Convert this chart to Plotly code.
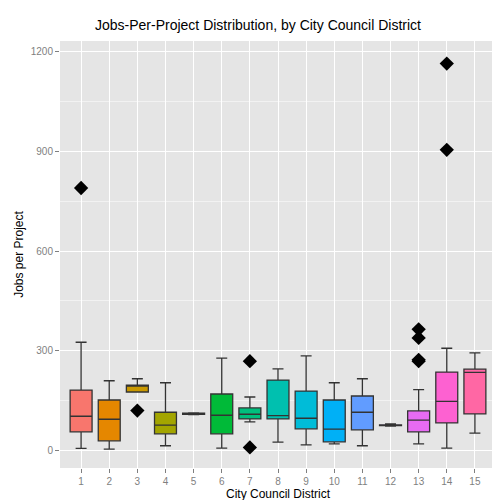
import plotly.graph_objects as go

districts = [str(i) for i in range(1, 16)]
lower = [5, 3, 175, 13, 107, 6, 85, 24, 16, 19, 13, 72, 19, 6, 51]
q1 = [55, 28, 175, 49, 108, 49, 94, 94, 64, 25, 61, 74, 55, 82, 109]
median = [102, 93, 193, 75, 110, 105, 108, 104, 96, 63, 114, 75, 90, 147, 234]
q3 = [181, 151, 196, 114, 111, 169, 127, 211, 178, 151, 163, 76, 118, 235, 244]
upper = [325, 209, 215, 203, 112, 277, 160, 245, 284, 203, 215, 79, 182, 307, 293]
colors = ["#F8766D", "#E58700", "#C99800", "#A3A500", "#6BB100", "#00BA38", "#00BF7D",
          "#00C0AF", "#00BCD8", "#00B0F6", "#619CFF", "#B983FF", "#E76BF3", "#FD61D1", "#FF67A4"]

out_x = ["1", "3", "7", "7", "13", "13", "13", "13", "14", "14"]
out_y = [790, 119, 268, 8, 268, 272, 338, 364, 1165, 905]

fig = go.Figure()
for i, d in enumerate(districts):
    fig.add_trace(go.Box(
        x=[d], q1=[q1[i]], median=[median[i]], q3=[q3[i]],
        lowerfence=[lower[i]], upperfence=[upper[i]],
        fillcolor=colors[i], line=dict(color="#333333", width=1.3),
        boxpoints=False, width=0.78, showlegend=False))

fig.add_trace(go.Scatter(x=out_x, y=out_y, mode="markers", showlegend=False,
                         marker=dict(symbol="diamond", size=11, color="black")))

fig.update_layout(
    width=500, height=500,
    margin=dict(l=52, r=12, t=33, b=40, autoexpand=False),
    paper_bgcolor="white", plot_bgcolor="#E5E5E5",
    font=dict(family="Arial, Liberation Sans", size=12, color="black"),
    title=dict(text="Jobs-Per-Project Distribution, by City Council District",
               x=0.5, xanchor="center", y=0.975, font=dict(size=14)),
)
fig.update_xaxes(categoryorder="array", categoryarray=districts, range=[-0.75, 14.75],
                 automargin=False,
                 title=dict(text="City Council District", standoff=2, font=dict(size=12)),
                 tickfont=dict(color="#7F7F7F", size=10), gridcolor="white",
                 ticks="outside", ticklen=4, tickcolor="#7F7F7F", showline=False, zeroline=False)
fig.update_yaxes(range=[-54, 1233], tickvals=[0, 300, 600, 900, 1200], automargin=False,
                 title=dict(text="Jobs per Project", standoff=4, font=dict(size=12)),
                 tickfont=dict(color="#7F7F7F", size=10), gridcolor="white", gridwidth=1.3,
                 minor=dict(tickvals=[150, 450, 750, 1050], gridcolor="#F2F2F2", gridwidth=0.7),
                 ticks="outside", ticklen=4, tickcolor="#7F7F7F", zeroline=False)

fig.write_html("out.html")
